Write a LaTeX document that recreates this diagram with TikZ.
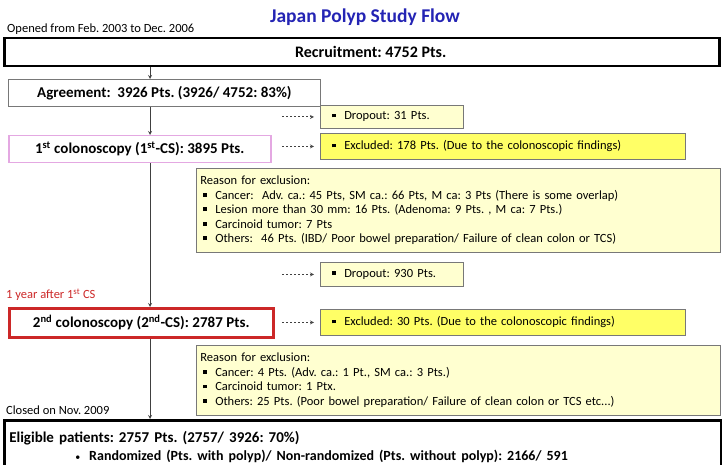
\documentclass[tikz,border=0pt]{standalone}
\usepackage{fontspec}
\setmainfont{Carlito}
\usepackage{tikz}
\usetikzlibrary{arrows,shapes,positioning}
\usepackage{xcolor}
\definecolor{jpblue}{RGB}{36,36,180}
\definecolor{jpred}{RGB}{204,40,40}
\definecolor{jppink}{RGB}{228,168,226}
\definecolor{jpgray}{RGB}{120,120,120}
\definecolor{jpyellow}{RGB}{255,255,102}
\definecolor{jplightyellow}{RGB}{255,255,208}
\frenchspacing
\newcommand{\sqbullet}{\rule[0.2em]{0.3em}{0.3em}\hspace{0.65em}}
\tikzstyle{arrow} = [line width=0.8pt,->,>=stealth,color=black!75]
\tikzstyle{dasharrow} = [arrow, dash pattern=on 2pt off 2pt]
\tikzstyle{flowbox} = [rectangle, anchor=north west, draw=jpgray, line width=0.8pt, fill=white, inner sep=0pt, font=\fontsize{15}{18}\selectfont\bfseries]
\tikzstyle{mainbox} = [flowbox, draw=black, line width=2.5pt]
\tikzstyle{notebox} = [rectangle, anchor=north west, draw=jpgray, line width=0.8pt, fill=jplightyellow, align=left, inner ysep=0pt, inner xsep=12pt, font=\fontsize{12.5}{14.5}\selectfont]
\tikzstyle{exclbox} = [notebox, fill=jpyellow]
\tikzstyle{sidenote} = [anchor=west, inner sep=0pt, font=\fontsize{12.5}{15}\selectfont]

\begin{document}
\begin{tikzpicture}[x=1pt, y=-1pt]
\clip (0,0) rectangle (722,465);
% Study flow
\node (title) at (365,17) [font=\fontsize{19.5}{22}\selectfont\bfseries, text=jpblue] {Japan Polyp Study Flow};
\node (opened) at (7,29) [sidenote] {Opened from Feb. 2003 to Dec. 2006};
\node (recruit) at (3,37) [mainbox, minimum width=715pt, minimum height=28pt, font=\fontsize{16}{18}\selectfont\bfseries] {\hspace*{18pt}Recruitment: 4752 Pts.};
\node (agree) at (8,79) [flowbox, minimum width=312pt, minimum height=27pt] {Agreement:\ \ 3926 Pts. (3926/ 4752: 83\%)};
\node (drop1) at (320,105) [notebox, text width=119pt, minimum height=23pt] {\sqbullet Dropout: 31 Pts.};
\node (excl1) at (320,133) [exclbox, text width=341pt, minimum height=26pt] {\sqbullet Excluded: 178 Pts. (Due to the colonoscopic findings)};
\node (firstcs) at (8,135) [flowbox, draw=jppink, line width=1.5pt, minimum width=262pt, minimum height=27pt] {1\textsuperscript{st} colonoscopy (1\textsuperscript{st}-CS): 3895 Pts.};
\node (reason1) at (196,168) [notebox, inner xsep=4pt, text width=516pt, minimum height=84pt] {Reason for exclusion:\\
\hspace*{3pt}\sqbullet Cancer:\ \ Adv. ca.: 45 Pts, SM ca.: 66 Pts, M ca: 3 Pts (There is some overlap)\\
\hspace*{3pt}\sqbullet Lesion more than 30 mm: 16 Pts. (Adenoma: 9 Pts. , M ca: 7 Pts.)\\
\hspace*{3pt}\sqbullet Carcinoid tumor: 7 Pts\\
\hspace*{3pt}\sqbullet Others:\ \ 46 Pts. (IBD/ Poor bowel preparation/ Failure of clean colon or TCS)};
\node (drop2) at (320,262) [notebox, text width=119pt, minimum height=24pt] {\sqbullet Dropout: 930 Pts.};
\node (oneyear) at (6,295) [sidenote, text=jpred] {1 year after 1\textsuperscript{st} CS};
\node (secondcs) at (8,307) [flowbox, draw=jpred, line width=2.5pt, minimum width=264pt, minimum height=29pt] {2\textsuperscript{nd} colonoscopy (2\textsuperscript{nd}-CS): 2787 Pts.};
\node (excl2) at (320,309) [exclbox, text width=341pt, minimum height=26pt] {\sqbullet Excluded: 30 Pts. (Due to the colonoscopic findings)};
\node (reason2) at (196,345) [notebox, inner xsep=4pt, text width=516pt, minimum height=70pt] {Reason for exclusion:\\
\hspace*{3pt}\sqbullet Cancer: 4 Pts. (Adv. ca.: 1 Pt., SM ca.: 3 Pts.)\\
\hspace*{3pt}\sqbullet Carcinoid tumor: 1 Ptx.\\
\hspace*{3pt}\sqbullet Others: 25 Pts. (Poor bowel preparation/ Failure of clean colon or TCS etc...)};
\node (closed) at (6,410) [sidenote] {Closed on Nov. 2009};
\node (eligible) at (3,419) [mainbox, align=left, inner xsep=5pt, text width=707pt, minimum height=54pt] {Eligible patients: 2757 Pts. (2757/ 3926: 70\%)\\
\fontsize{14}{17}\selectfont\hspace*{66pt}{\mdseries\fontsize{10}{12}\selectfont\textbullet}\hspace{9pt}Randomized (Pts. with polyp)/ Non-randomized (Pts. without polyp): 2166/ 591};

\coordinate (trunk) at (150,0);
\draw[arrow] (recruit.south -| trunk) -- (agree.north -| trunk);
\draw[arrow] (agree.south -| trunk) -- (firstcs.north -| trunk);
\draw[arrow] (firstcs.south -| trunk) -- (secondcs.north -| trunk);
\draw[arrow] (secondcs.south -| trunk) -- (eligible.north -| trunk);

\draw[dasharrow] ([xshift=-38pt]drop1.west) -- ([xshift=-6pt]drop1.west);
\draw[dasharrow] ([xshift=-38pt]excl1.west) -- ([xshift=-6pt]excl1.west);
\draw[dasharrow] ([xshift=-38pt]drop2.west) -- ([xshift=-6pt]drop2.west);
\draw[dasharrow] ([xshift=-38pt]excl2.west) -- ([xshift=-6pt]excl2.west);
\end{tikzpicture}
\end{document}
